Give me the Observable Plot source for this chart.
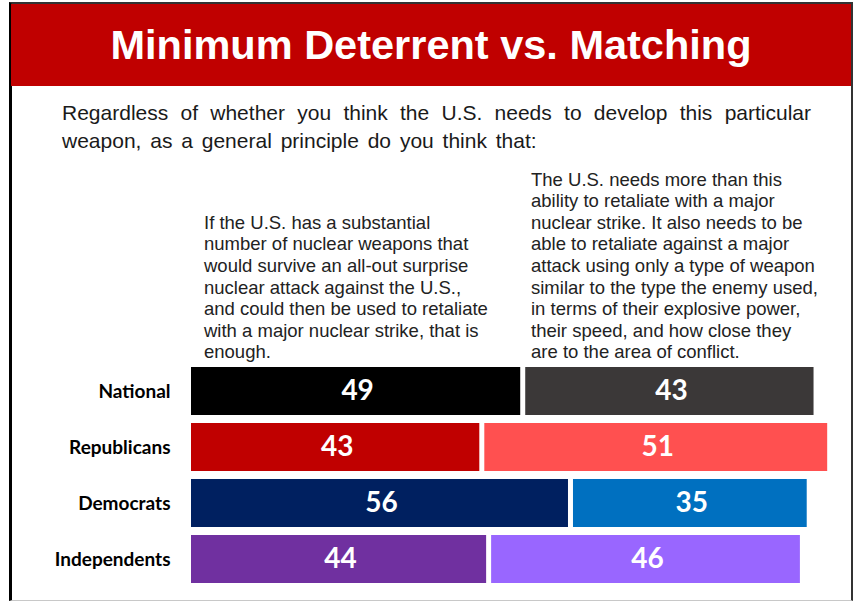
<!DOCTYPE html>
<html>
<head>
<meta charset="utf-8">
<script src="https://cdn.jsdelivr.net/npm/d3@7"></script>
<script src="https://cdn.jsdelivr.net/npm/@observablehq/plot@0.6"></script>
<style>
  html, body { margin: 0; padding: 0; background: #fff; }
  #page { position: relative; width: 857px; height: 602px; overflow: hidden; background: #fff; }
  #frame { position: absolute; left: 9px; top: 2px; width: 844px; height: 599px; box-sizing: border-box;
    border-left: 3px solid #000; border-top: 2px solid #333; border-right: 2px solid #333; border-bottom: 1px solid #c8c8c8; }
  #banner { position: absolute; left: 11px; top: 4px; width: 840px; height: 82px; background: #C00000;
    color: #fff; font-family: "Liberation Sans", Arial, sans-serif; font-weight: bold; font-size: 41.5px;
    line-height: 82px; text-align: center; }
  .sub { position: absolute; left: 62px; width: 749px; font-family: "Liberation Sans", Arial, sans-serif;
    font-size: 21px; line-height: 28px; color: #1a1a1a; white-space: nowrap; }
  #sub1 { top: 99px; text-align: justify; text-align-last: justify; white-space: normal; }
  #sub2 { top: 127px; word-spacing: 3px; }
  .col { position: absolute; bottom: 239px; font-family: "Liberation Sans", Arial, sans-serif; font-size: 18.5px;
    line-height: 21.6px; color: #222; white-space: nowrap; }
  #chart { position: absolute; left: 0; top: 350px; }
</style>
</head>
<body>
<div id="page">
  <div id="frame"></div>
  <div id="banner">Minimum Deterrent vs. Matching</div>
  <div class="sub" id="sub1"></div>
  <div class="sub" id="sub2"></div>
  <div class="col" id="colA" style="left:204px"></div>
  <div class="col" id="colB" style="left:531px"></div>
  <div id="chart"></div>
</div>
<script>
const groups = ["National", "Republicans", "Democrats", "Independents"];
const enough = [49, 43, 56, 44];
const more = [43, 51, 35, 46];
const subtitleLines = ["Regardless of whether you think the U.S. needs to develop this particular",
  "weapon, as a general principle do you think that:"];
const answerLines = [
  ["If the U.S. has a substantial", "number of nuclear weapons that", "would survive an all-out surprise",
   "nuclear attack against the U.S.,", "and could then be used to retaliate", "with a major nuclear strike, that is", "enough."],
  ["The U.S. needs more than this", "ability to retaliate with a major", "nuclear strike. It also needs to be",
   "able to retaliate against a major", "attack using only a type of weapon", "similar to the type the enemy used,",
   "in terms of their explosive power,", "their speed, and how close they", "are to the area of conflict."]
];
const enoughColors = ["#000000", "#C00000", "#002060", "#7030A0"];
const moreColors = ["#3B3838", "#FF5050", "#0070C0", "#9966FF"];

document.getElementById("sub1").textContent = subtitleLines[0];
document.getElementById("sub2").textContent = subtitleLines[1];
document.getElementById("colA").innerHTML = answerLines[0].join("<br>");
document.getElementById("colB").innerHTML = answerLines[1].join("<br>");

const rows = groups.flatMap((g, i) => [
  {group: g, answer: "enough", value: enough[i], color: enoughColors[i]},
  {group: g, answer: "more", value: more[i], color: moreColors[i]}
]);

const chart = Plot.plot({
  width: 857, height: 250,
  marginLeft: 190, marginRight: 19, marginTop: 13, marginBottom: 13,
  x: {domain: [0, 95], axis: null},
  y: {domain: groups, padding: 0, label: null, tickSize: 0, tickPadding: 20},
  color: {type: "identity"},
  style: {background: "transparent", color: "#000", fontFamily: "Lato, sans-serif", fontSize: "19px", fontWeight: "bold"},
  marks: [
    Plot.barX(rows, Plot.stackX({x: "value", y: "group", fill: "color", insetLeft: 1, insetRight: 4, insetTop: 4, insetBottom: 4})),
    Plot.text(rows, Plot.stackX({x: "value", y: "group", z: "answer", text: d => String(d.value), fill: "white",
      fontSize: 28, fontWeight: "bold", fontFamily: "Lato, sans-serif"}))
  ]
});
document.getElementById("chart").appendChild(chart);
</script>
</body>
</html>
